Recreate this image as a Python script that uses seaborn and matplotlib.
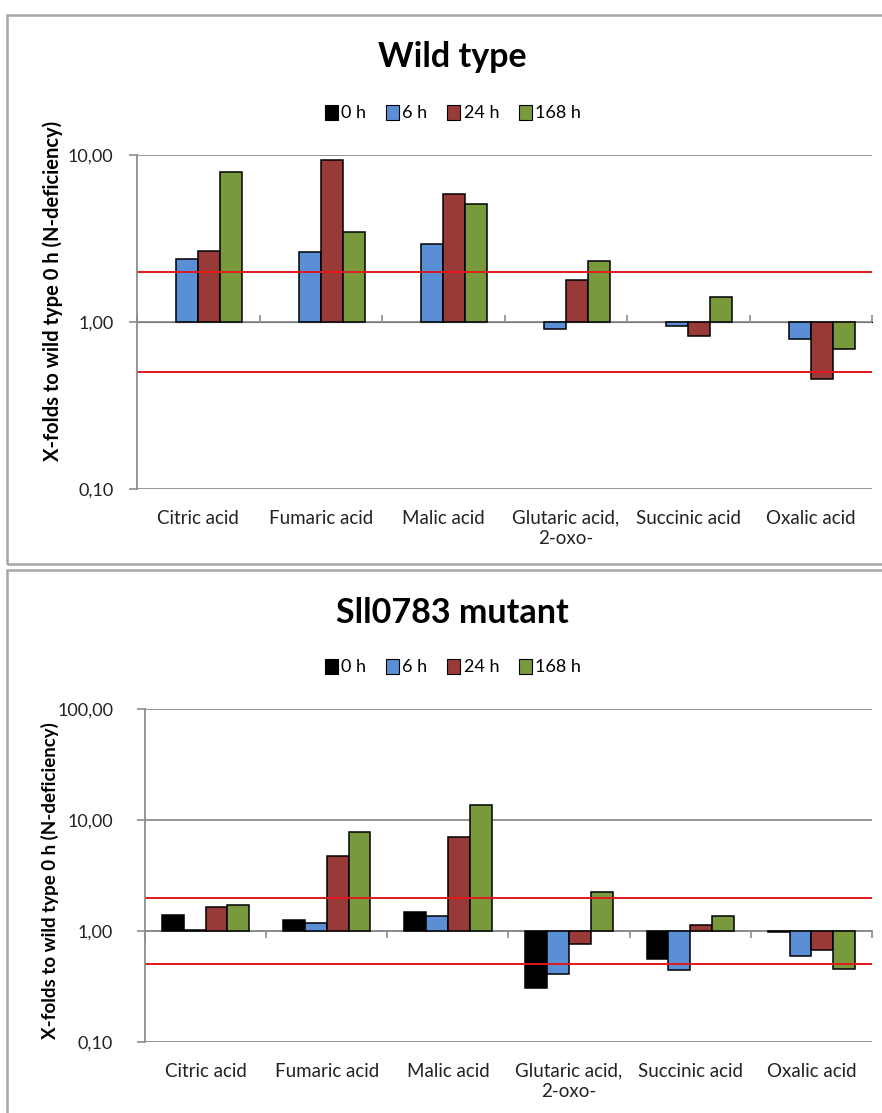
import numpy as np
import pandas as pd
import matplotlib
matplotlib.use("Agg")
import matplotlib.pyplot as plt
from matplotlib.patches import Rectangle, Patch
from matplotlib.ticker import FixedLocator, FuncFormatter, NullLocator, NullFormatter
import seaborn as sns

# fold change relative to wild type 0 h (N-deficiency)
acids = ["Citric acid", "Fumaric acid", "Malic acid",
         "Glutaric acid,\n2-oxo-", "Succinic acid", "Oxalic acid"]
times = ["0 h", "6 h", "24 h", "168 h"]

wt_0h = [1.0, 1.0, 1.0, 1.0, 1.0, 1.0]
wt_6h = [2.38, 2.61, 2.92, 0.91, 0.95, 0.79]
wt_24h = [2.67, 9.33, 5.88, 1.79, 0.82, 0.455]
wt_168h = [7.9, 3.47, 5.07, 2.32, 1.41, 0.69]

mut_0h = [1.39, 1.26, 1.48, 0.307, 0.564, 0.97]
mut_6h = [1.02, 1.17, 1.37, 0.413, 0.443, 0.60]
mut_24h = [1.63, 4.72, 7.0, 0.764, 1.13, 0.675]
mut_168h = [1.73, 7.76, 13.7, 2.25, 1.37, 0.455]

colors = ["#000000", "#5A8FD6", "#983A38", "#799A3C"]


def long_table(series):
    rows = []
    for t, vals in zip(times, series):
        for a, v in zip(acids, vals):
            rows.append({"acid": a, "time": t, "fold": v})
    df = pd.DataFrame(rows)
    # bars start at 1 (Excel category axis crosses at 1)
    df["height"] = df["fold"] - 1
    return df


wt_df = long_table([wt_0h, wt_6h, wt_24h, wt_168h])
mut_df = long_table([mut_0h, mut_6h, mut_24h, mut_168h])

plt.rcParams["font.family"] = ["Lato", "DejaVu Sans"]

W, H = 882, 1113
fig = plt.figure(figsize=(W / 100, H / 100), dpi=100)


def px_axes(left, top, right, bottom):
    return fig.add_axes([left / W, 1 - bottom / H, (right - left) / W, (bottom - top) / H])


def panel(df, box, ax_px, ylim, title, title_y, legend_y, ylabel_x, ylabel_y, ylabel_size, ypad):
    # gray frame around the chart
    x0, y0, x1, y1 = box
    fig.patches.append(Rectangle((x0 / W, 1 - y1 / H), (x1 - x0) / W, (y1 - y0) / H,
                                 transform=fig.transFigure, fill=False,
                                 edgecolor="#a6a6a6", lw=1.8))

    ax = px_axes(*ax_px)
    sns.barplot(data=df, x="acid", y="height", hue="time", order=acids,
                hue_order=times, palette=colors, width=0.72, bottom=1,
                edgecolor="black", linewidth=1.1, errorbar=None, ax=ax,
                saturation=1, legend=False)
    # Excel draws nothing for a value of exactly 1
    for p in ax.patches:
        if p.get_height() == 0:
            p.set_linewidth(0)
    ax.set_yscale("log")
    ax.set_ylim(*ylim)
    ax.set_xlim(-0.5, len(acids) - 0.5)

    dec = np.arange(np.log10(ylim[0]), np.log10(ylim[1]) + 0.5)
    ax.yaxis.set_major_locator(FixedLocator(10.0 ** dec))
    ax.yaxis.set_minor_locator(NullLocator())
    ax.yaxis.set_major_formatter(FuncFormatter(lambda v, p: f"{v:.2f}".replace(".", ",")))
    ax.yaxis.grid(True, color="#8c8c8c", lw=1.3)
    ax.set_axisbelow(True)
    ax.tick_params(axis="y", length=6, width=1.2, color="#8c8c8c", labelsize=13,
                   labelcolor="#222222", pad=ypad)
    ax.tick_params(axis="x", length=0, labelsize=13.5, labelcolor="#222222", pad=15)

    for s in ["top", "right", "bottom"]:
        ax.spines[s].set_visible(False)
    ax.spines["left"].set_color("#8c8c8c")
    ax.spines["left"].set_linewidth(1.3)

    # category axis crossing at 1 with ticks between groups
    frac = -np.log10(ylim[0]) / (np.log10(ylim[1]) - np.log10(ylim[0]))
    sec = ax.secondary_xaxis(frac)
    sec.set_xticks(np.arange(-0.5, len(acids)))
    sec.xaxis.set_major_formatter(NullFormatter())
    sec.tick_params(length=5, color="#8c8c8c", direction="out", width=1.2)
    sec.spines["bottom"].set_color("#8c8c8c")
    sec.spines["bottom"].set_linewidth(1.3)

    # two-fold thresholds
    ax.axhline(2, color="#e0191e", lw=1.4, zorder=1.5)
    ax.axhline(0.5, color="#e0191e", lw=1.4, zorder=1.5)

    ax.set_xlabel("")
    ax.set_ylabel("")

    handles = [Patch(facecolor=c, edgecolor="black", lw=0.8) for c in colors]
    ax.legend(handles, times, ncol=4, frameon=False, loc="center",
              bbox_to_anchor=(453 / W, 1 - legend_y / H), bbox_transform=fig.transFigure,
              fontsize=13, handlelength=0.7, handleheight=0.95, handletextpad=0.2,
              columnspacing=1.1)

    fig.text(452 / W, 1 - title_y / H, title, ha="center", va="center",
             fontsize=24.5, fontweight="bold")
    fig.text(ylabel_x / W, 1 - ylabel_y / H, "X-folds to wild type 0 h (N-deficiency)",
             rotation=90, ha="center", va="center", fontsize=ylabel_size, fontweight="bold")
    return ax


panel(wt_df, (7, 15, 900, 564), (137, 155, 872, 489), (0.1, 10),
      "Wild type", 57, 113, 53, 291, 14.5, 11)
panel(mut_df, (7, 570, 900, 1130), (145, 709, 872, 1042), (0.1, 100),
      "Sll0783 mutant", 613, 667, 50, 881, 13.5, 17)

fig.savefig("out.png", dpi=100)
